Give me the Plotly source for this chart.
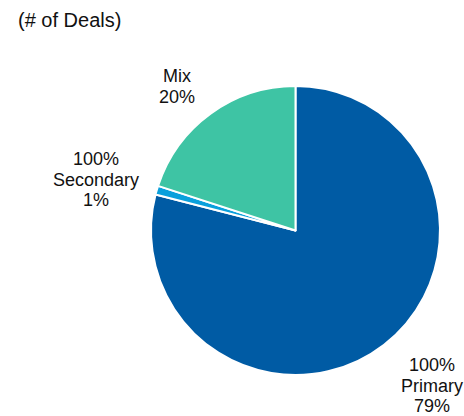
import plotly.graph_objects as go

labels = ["100%<br>Primary", "100%<br>Secondary", "Mix"]
values = [79, 1, 20]
pct_labels = ["79%", "1%", "20%"]
colors = ["#005BA4", "#0AA0DC", "#3EC4A4"]

fig = go.Figure(go.Pie(
    labels=labels, values=values, sort=False, direction="clockwise", rotation=0,
    marker=dict(colors=colors, line=dict(color="white", width=2)),
    textinfo="none", hoverinfo="label+percent",
    domain=dict(x=[151/464, 440/464], y=[1-375/416, 1-86/416]),
    showlegend=False,
))

font = dict(family="Arial, Liberation Sans, sans-serif", size=18, color="#111")
pos = [(432, 365), (96, 159), (177, 76)]
for lab, pct, (x, y) in zip(labels, pct_labels, pos):
    lines = lab.split("<br>") + [pct]
    for i, line in enumerate(lines):
        fig.add_annotation(text=line, x=x/464, y=1-(y+20.5*i)/416, xref="paper", yref="paper",
                           showarrow=False, font=font, align="center",
                           xanchor="center", yanchor="middle")

fig.add_annotation(text="(# of Deals)", x=16/464, y=1-20/416, xref="paper", yref="paper",
                   showarrow=False, xanchor="left", yanchor="middle",
                   font=dict(family="Arial, Liberation Sans, sans-serif", size=20, color="#111"))

fig.update_layout(width=464, height=416, margin=dict(l=0, r=0, t=0, b=0),
                  paper_bgcolor="white", plot_bgcolor="white")
fig.write_html("out.html")
